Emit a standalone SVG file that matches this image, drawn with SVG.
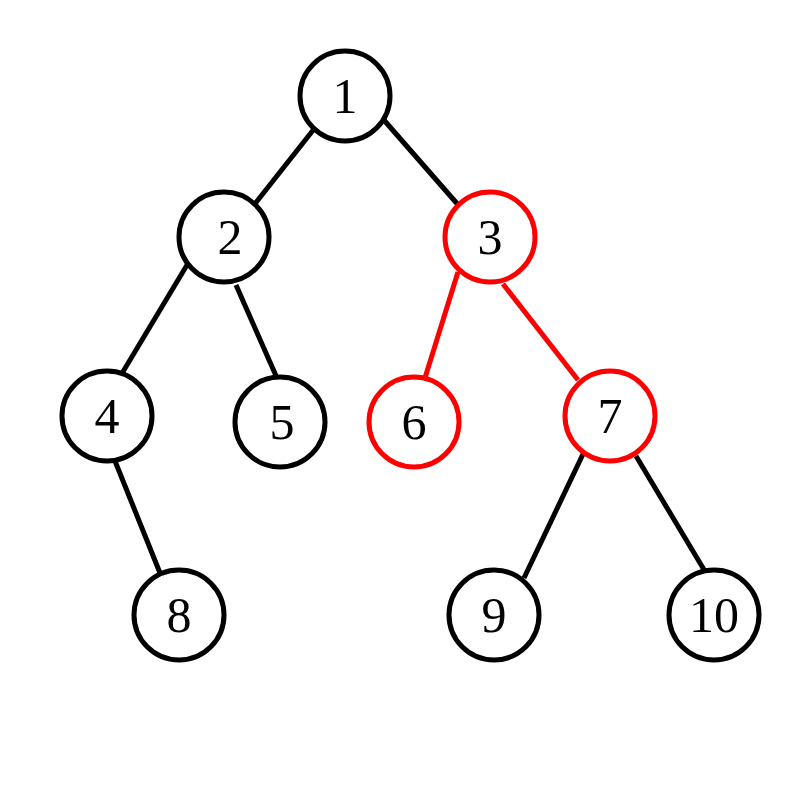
<svg xmlns="http://www.w3.org/2000/svg" width="800" height="800" viewBox="0 0 800 800">
<style>
.n circle{fill:#fff;stroke:#000;stroke-width:5}
.r circle{stroke:#f00}
.n text{font-family:"Liberation Serif","DejaVu Serif",serif;font-size:50px;text-anchor:middle;fill:#000}
#edges line{stroke:#000;stroke-width:5}
#edges line.r{stroke:#f00}
</style>
<rect width="800" height="800" fill="#fff"/>
<g id="edges">
<line x1="314" y1="129" x2="254" y2="205"/>
<line x1="383" y1="119" x2="460" y2="207"/>
<line x1="187" y1="265" x2="121" y2="375"/>
<line x1="236" y1="285" x2="277" y2="378"/>
<line class="r" x1="458" y1="272" x2="424" y2="381"/>
<line class="r" x1="503" y1="284" x2="578" y2="380"/>
<line x1="115" y1="461" x2="160" y2="573"/>
<line x1="584" y1="452" x2="524" y2="578"/>
<line x1="636" y1="456" x2="706" y2="573"/>
</g>
<g id="n1" class="n"><circle cx="345" cy="96" r="45"/><text x="345" y="113">1</text></g>
<g id="n2" class="n"><circle cx="224" cy="237" r="45"/><text x="230" y="254">2</text></g>
<g id="n3" class="n r"><circle cx="490" cy="237" r="45"/><text x="490" y="254">3</text></g>
<g id="n4" class="n"><circle cx="107" cy="416" r="45"/><text x="107" y="433">4</text></g>
<g id="n5" class="n"><circle cx="280" cy="422" r="45"/><text x="282" y="439">5</text></g>
<g id="n6" class="n r"><circle cx="414" cy="422" r="45"/><text x="414" y="439">6</text></g>
<g id="n7" class="n r"><circle cx="610" cy="416" r="45"/><text x="610" y="433">7</text></g>
<g id="n8" class="n"><circle cx="179" cy="615" r="45"/><text x="179" y="632">8</text></g>
<g id="n9" class="n"><circle cx="494" cy="615" r="45"/><text x="494" y="632">9</text></g>
<g id="n10" class="n"><circle cx="714" cy="615" r="45"/><text x="714" y="632">10</text></g>
</svg>
